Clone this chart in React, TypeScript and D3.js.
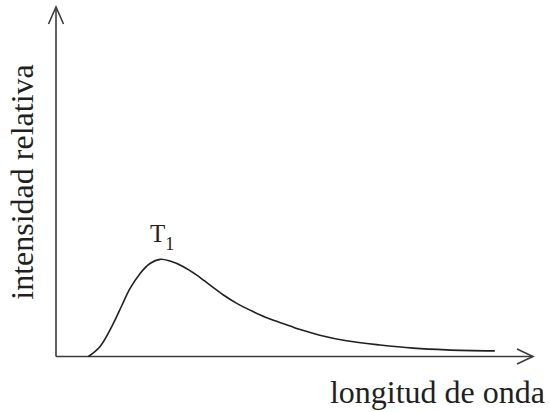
import React from "react";
import * as d3 from "d3";

// Spectral curve for temperature T1 (arbitrary units)
const wavelength = [6.8, 9.2, 12.0, 13.8, 15.5, 17.6, 19.7, 21.8, 23.9, 26.7, 29.5, 32.3, 35.1, 37.9, 41.4, 44.9, 49.1, 51.2, 55.3, 60.9, 67.9, 74.9, 81.9, 92.0];
const intensity = [0, 2.8, 9.4, 14.6, 19.4, 23.7, 26.6, 27.8, 27.3, 25.7, 23.3, 20.4, 17.6, 15.2, 12.8, 10.7, 8.7, 7.7, 6.1, 4.5, 3.3, 2.4, 1.9, 1.6];

const curveLabel = "T";
const curveSub = "1";
const xTitle = "longitud de onda";
const yTitle = "intensidad relativa";

const W = 550;
const H = 412;
const FONT = "'Liberation Serif', 'Times New Roman', serif";
const INK = "#231f20";

export default function App() {
  const x = d3.scaleLinear().domain([0, 100]).range([56, 533]);
  const y = d3.scaleLinear().domain([0, 100]).range([356.5, 7]);

  const pts: [number, number][] = wavelength.map((w, i) => [w, intensity[i]]);
  const line = d3
    .line<[number, number]>()
    .x((d) => x(d[0]))
    .y((d) => y(d[1]))
    .curve(d3.curveCatmullRom.alpha(0.5));

  const x0 = x(0);
  const y0 = y(0);
  const xEnd = x(100);
  const yEnd = y(100);

  const peakIdx = d3.maxIndex(intensity);

  return (
    <svg
      width={W}
      height={H}
      style={{ position: "absolute", left: 0, top: 0, background: "#fff" }}
    >
      {/* axes */}
      <g stroke="#3c3c3c" strokeWidth={1.6} fill="none">
        <line x1={x0} y1={y0} x2={xEnd} y2={y0} />
        <line x1={x0} y1={y0} x2={x0} y2={yEnd} />
        <path d={`M${xEnd - 16},${y0 - 7.5} L${xEnd},${y0} L${xEnd - 16},${y0 + 7.5}`} />
        <path d={`M${x0 - 7.5},${yEnd + 17} L${x0},${yEnd} L${x0 + 7.5},${yEnd + 17}`} />
      </g>

      {/* curve */}
      <path d={line(pts) ?? ""} fill="none" stroke={INK} strokeWidth={1.6} />

      {/* curve label */}
      <text
        x={x(wavelength[peakIdx]) - 10}
        y={241.5}
        fontFamily={FONT}
        fontSize={25}
        fill={INK}
      >
        {curveLabel}
        <tspan fontSize={18} dy={8}>
          {curveSub}
        </tspan>
      </text>

      {/* axis titles */}
      <text
        x={545}
        y={403}
        textAnchor="end"
        fontFamily={FONT}
        fontSize={32}
        fill={INK}
      >
        {xTitle}
      </text>
      <text
        transform={`translate(33,182) rotate(-90)`}
        textAnchor="middle"
        fontFamily={FONT}
        fontSize={32}
        fill={INK}
      >
        {yTitle}
      </text>
    </svg>
  );
}
